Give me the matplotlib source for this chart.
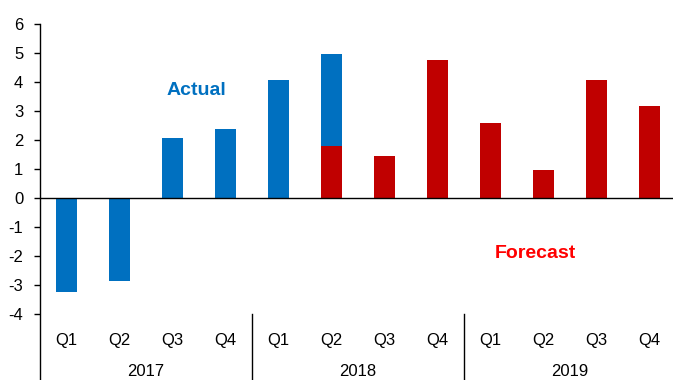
import numpy as np
import matplotlib
matplotlib.use("Agg")
import matplotlib.pyplot as plt
from matplotlib.lines import Line2D

plt.rcParams['font.family'] = ['Liberation Sans', 'DejaVu Sans']
plt.rcParams['axes.unicode_minus'] = False

# dados
trimestres = ['Q1', 'Q2', 'Q3', 'Q4'] * 3
anos = ['2017', '2018', '2019']
realizado = [-3.25, -2.85, 2.07, 2.38, 4.06, 4.97, np.nan, np.nan, np.nan, np.nan, np.nan, np.nan]
previsao = [np.nan, np.nan, np.nan, np.nan, np.nan, 1.80, 1.45, 4.76, 2.59, 0.97, 4.07, 3.17]

azul = '#0070C0'
vermelho = '#C00000'

fig = plt.figure(figsize=(6.73, 3.8), dpi=100)
ax = fig.add_axes([40 / 673, 1 - 314 / 380, 636 / 673, 290 / 380])

x = np.arange(len(trimestres))
ax.bar(x, realizado, width=0.4, color=azul, zorder=2)
ax.bar(x, previsao, width=0.4, color=vermelho, zorder=3)

ax.set_xlim(-0.5, 11.5)
ax.set_ylim(-4, 6)
ax.set_yticks(range(-4, 7))
ax.tick_params(axis='y', length=4, width=1, pad=8, labelsize=12)
ax.set_xticks([])
ax.axhline(0, color='black', lw=1, zorder=4)

for s in ['top', 'right', 'bottom']:
    ax.spines[s].set_visible(False)
ax.spines['left'].set_visible(False)

# eixo esquerdo prolongado ate o fim da figura
trans = ax.get_xaxis_transform()
ax.add_line(Line2D([-0.5, -0.5], [-0.23, 1.0], transform=trans, color='black', lw=1, clip_on=False))
for sep in [3.5, 7.5]:
    ax.add_line(Line2D([sep, sep], [0, -0.23], transform=trans, color='black', lw=1, clip_on=False))

# rotulos das categorias
for i, q in enumerate(trimestres):
    ax.text(i, -0.09, q, transform=trans, ha='center', va='center', fontsize=12)
for j, a in enumerate(anos):
    ax.text(4 * j + 1.5, -0.2, a, transform=trans, ha='center', va='center', fontsize=12)

ax.text(2.45, 3.72, 'Actual', color=azul, fontsize=14, fontweight='bold', ha='center', va='center')
ax.text(8.85, -1.93, 'Forecast', color='#FF0000', fontsize=14, fontweight='bold', ha='center', va='center')

fig.savefig('out.png', dpi=100)
